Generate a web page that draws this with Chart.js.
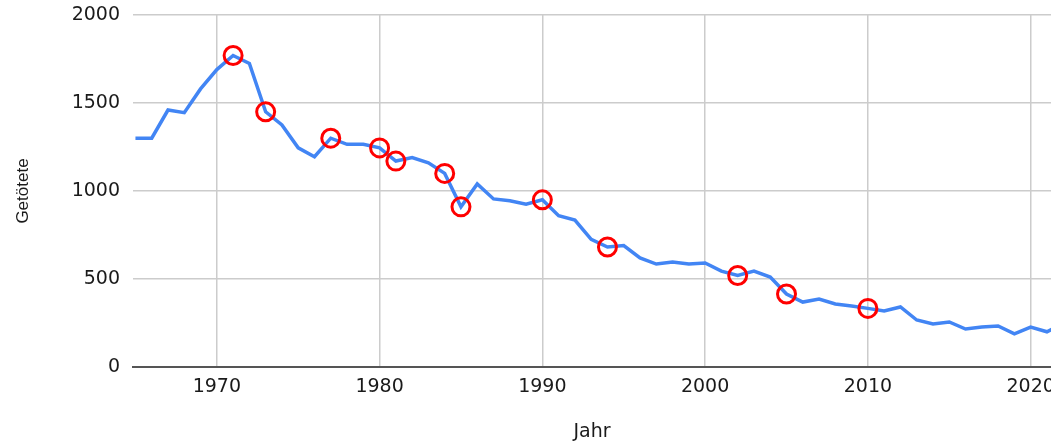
<!DOCTYPE html>
<html lang="de">
<head>
    <meta charset="UTF-8">
    <title>Getötete pro Jahr</title>
    <script src="https://cdn.jsdelivr.net/npm/chart.js"></script>
    <style>
        body {
            margin: 0;
            background-color: #ffffff;
        }
        .wrap {
            width: 1051px;
            height: 442px;
        }
    </style>
</head>
<body>
<div class="wrap"><canvas id="myChart" width="1051" height="442"></canvas></div>
<script>
    // Jahre und Werte
    const jahre = [1965, 1966, 1967, 1968, 1969, 1970, 1971, 1972, 1973, 1974,
                   1975, 1976, 1977, 1978, 1979, 1980, 1981, 1982, 1983, 1984,
                   1985, 1986, 1987, 1988, 1989, 1990, 1991, 1992, 1993, 1994,
                   1995, 1996, 1997, 1998, 1999, 2000, 2001, 2002, 2003, 2004,
                   2005, 2006, 2007, 2008, 2009, 2010, 2011, 2012, 2013, 2014,
                   2015, 2016, 2017, 2018, 2019, 2020, 2021, 2022];
    const getoetete = [1300, 1300, 1460, 1445, 1580, 1690, 1770, 1725, 1450, 1375,
                       1245, 1195, 1300, 1265, 1265, 1245, 1170, 1190, 1160, 1100,
                       910, 1040, 955, 945, 925, 950, 860, 835, 725, 682,
                       690, 620, 585, 597, 585, 591, 545, 520, 545, 511,
                       415, 369, 386, 358, 347, 333, 318, 341, 267, 244,
                       256, 216, 227, 233, 188, 227, 200, 245];
    // rot markierte Jahre
    const markiert = [1971, 1973, 1977, 1980, 1981, 1984, 1985, 1990, 1994, 2002, 2005, 2010];

    const xTicks = [1970, 1980, 1990, 2000, 2010, 2020];
    const yTicks = [0, 500, 1000, 1500, 2000];

    const punkte = jahre.map((j, i) => ({ x: j, y: getoetete[i] }));
    const radien = jahre.map(j => markiert.includes(j) ? 9 : 0);

    const ctx = document.getElementById('myChart').getContext('2d');
    const myChart = new Chart(ctx, {
        type: 'line',
        data: {
            datasets: [{
                label: 'Getötete',
                data: punkte,
                borderColor: '#4285f4',
                borderWidth: 3.5,
                tension: 0,
                fill: false,
                pointRadius: radien,
                pointHoverRadius: radien,
                pointBorderColor: '#ff0000',
                pointBackgroundColor: 'rgba(0,0,0,0)',
                pointBorderWidth: 3
            }]
        },
        options: {
            responsive: false,
            animation: false,
            layout: {
                padding: { top: 15, right: 0, left: 0, bottom: 0 }
            },
            plugins: {
                legend: { display: false },
                tooltip: { enabled: false }
            },
            scales: {
                x: {
                    type: 'linear',
                    min: 1964.85,
                    max: 2021.25,
                    afterFit: (scale) => {
                        scale.height = 75;
                        scale.paddingLeft = 0;
                        scale.paddingRight = 0;
                    },
                    afterBuildTicks: (scale) => {
                        scale.ticks = xTicks.map(v => ({ value: v }));
                    },
                    grid: {
                        color: '#cccccc',
                        lineWidth: 1.5,
                        drawTicks: false
                    },
                    border: {
                        display: true,
                        color: '#555555',
                        width: 2
                    },
                    ticks: {
                        padding: 9,
                        color: '#1a1a1a',
                        font: { family: 'DejaVu Sans', size: 19 },
                        maxRotation: 0,
                        callback: (v) => String(v)
                    },
                    title: {
                        display: true,
                        text: 'Jahr',
                        color: '#1a1a1a',
                        font: { family: 'DejaVu Sans', size: 19, lineHeight: 1 },
                        padding: 0
                    }
                },
                y: {
                    min: 0,
                    max: 2000,
                    afterFit: (scale) => {
                        scale.width = 133;
                        scale.paddingTop = 0;
                        scale.paddingBottom = 0;
                    },
                    afterBuildTicks: (scale) => {
                        scale.ticks = yTicks.map(v => ({ value: v }));
                    },
                    grid: {
                        color: '#cccccc',
                        lineWidth: 1.5,
                        drawTicks: false
                    },
                    border: { display: false },
                    ticks: {
                        padding: 13,
                        color: '#1a1a1a',
                        font: { family: 'DejaVu Sans', size: 19 },
                        callback: (v) => String(v)
                    },
                    title: {
                        display: true,
                        text: 'Getötete',
                        color: '#1a1a1a',
                        font: { family: 'Liberation Sans', size: 17 },
                        padding: { top: 13, bottom: 0 }
                    }
                }
            }
        }
    });
</script>
</body>
</html>
